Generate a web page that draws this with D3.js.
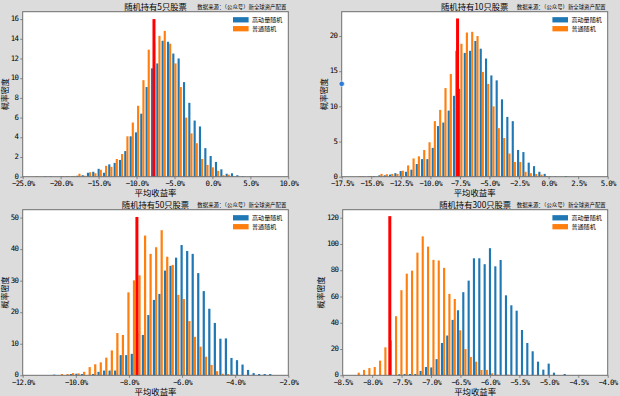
<!DOCTYPE html>
<html lang="zh-CN"><head><meta charset="utf-8">
<script src="https://cdn.jsdelivr.net/npm/d3@7"></script>
<style>html,body{margin:0;padding:0;background:#dcdcdc;}svg{display:block;}</style>
</head><body>
<svg id="chart" width="620" height="396"></svg>
<script>
// ---------- data ----------
const titles = ["随机持有5只股票", "随机持有10只股票", "随机持有50只股票", "随机持有300只股票"];
const sourceNote = "数据来源：（公众号）新全球资产配置";
const seriesNames = ["高动量随机", "普通随机"];
const xLabelText = "平均收益率";
const yLabelText = "概率密度";

// bin centres (% return) and densities, one set per panel
const bins5 = [-23.29,-22.59,-21.88,-21.18,-20.48,-19.77,-19.07,-18.37,-17.66,-16.96,-16.26,-15.56,-14.85,-14.15,-13.45,-12.74,-12.04,-11.34,-10.63,-9.93,-9.23,-8.53,-7.82,-7.12,-6.42,-5.71,-5.01,-4.31,-3.60,-2.90,-2.20,-1.50,-0.79,-0.09,0.61,1.32,2.02,2.72,3.43,4.13];
const blue5 = [0,0,0.05,0.05,0,0.03,0.05,0.05,0.1,0.15,0.4,0.5,0.8,0.4,1.25,1.4,1.7,2.6,4.1,4.5,6.4,9.1,11.0,11.5,13.8,13.7,12.5,12.0,9.6,7.5,5.7,5.1,2.9,2.1,1.5,0.75,0.3,0.35,0.15,0.05];
const orange5 = [0.05,0,0,0,0,0.05,0.05,0.08,0.3,0.1,0.45,0.35,0.7,1.1,1.0,1.8,2.3,4.1,5.5,7.2,9.8,12.9,13.6,14.3,14.8,13.5,11.5,9.1,6.0,4.4,3.4,1.8,1.2,0.95,0.6,0.15,0.2,0.05,0,0];

const bins10 = [-16.02,-15.57,-15.12,-14.67,-14.22,-13.77,-13.32,-12.87,-12.42,-11.97,-11.51,-11.06,-10.61,-10.16,-9.71,-9.26,-8.81,-8.36,-7.91,-7.46,-7.00,-6.55,-6.10,-5.65,-5.20,-4.75,-4.30,-3.85,-3.40,-2.94,-2.49,-2.04,-1.59,-1.14,-0.69,-0.24,0.21,0.66,1.11,1.56];
const blue10 = [0,0.05,0.05,0.1,0.2,0.2,0.3,0.5,0.8,0.7,1.0,1.8,2.5,2.5,4.1,7.2,7.7,9.4,11.5,12.5,17.6,17.9,19.3,18.2,16.8,14.4,13.7,11.0,8.5,7.9,3.8,3.5,2.0,1.5,0.7,0.4,0.05,0.05,0,0.1];
const orange10 = [0.1,0,0.1,0.05,0.4,0.35,0.4,0.4,0.85,1.6,2.6,2.9,3.8,4.9,7.9,9.5,12.6,14.6,17.9,18.9,20.5,20.6,20.0,14.9,13.2,10.0,6.9,5.5,3.3,2.1,2.1,0.7,0.5,0.4,0.3,0.1,0,0,0,0];

const bins50 = [-10.770,-10.562,-10.353,-10.145,-9.936,-9.728,-9.519,-9.311,-9.102,-8.894,-8.685,-8.477,-8.268,-8.060,-7.851,-7.643,-7.434,-7.226,-7.017,-6.809,-6.600,-6.392,-6.183,-5.975,-5.766,-5.558,-5.349,-5.141,-4.932,-4.724,-4.515,-4.307,-4.098,-3.890,-3.681,-3.473,-3.264,-3.056,-2.847,-2.639];
const blue50 = [0.2,0,0,0.4,0.5,0.4,0,0.4,1.1,1.5,1.5,1.5,6.4,6.4,6.8,13.4,12.8,19.1,23.9,25.8,33.2,34.7,37.3,41.3,39.4,38.5,32.4,26.7,21.1,16.6,11.6,11.7,5.5,4.8,3.4,1.7,0.7,0.4,0.4,0.4];
const orange50 = [0,0.4,0.4,0.7,0.6,1.1,2.6,3.5,4.1,5.6,7.9,13.4,12.8,26.3,30.1,31.7,44.3,38.5,40.6,46.0,37.6,35.0,25.5,24.2,17.2,12.2,9.1,5.9,3.3,1.3,0.5,0.4,0.2,0,0,0,0,0,0,0];

const bins300 = [-8.246,-8.155,-8.065,-7.974,-7.883,-7.793,-7.702,-7.612,-7.521,-7.430,-7.340,-7.249,-7.159,-7.068,-6.977,-6.887,-6.796,-6.706,-6.615,-6.524,-6.434,-6.343,-6.253,-6.162,-6.071,-5.981,-5.890,-5.800,-5.709,-5.618,-5.528,-5.437,-5.347,-5.256,-5.165,-5.075,-4.984,-4.894,-4.803,-4.712];
const blue300 = [0,0,0,0,0,0,0,0,0.8,1.0,1.0,1.0,3.3,6.3,6.0,12.3,24.6,30.3,42.2,49.5,63.3,72.1,89.1,89.1,84.6,96.8,83.0,87.8,60.9,53.3,49.2,34.5,24.6,18.3,10.4,4.3,8.9,2.0,0,1.0];
const orange300 = [2.0,4.1,5.5,6.3,11.2,21.3,26.6,45.0,64.8,77.4,79.7,93.4,105.8,98.0,87.9,87.4,81.8,62.0,58.1,34.3,20.0,14.0,10.4,4.1,4.1,1.5,0.5,0,0.5,0,0,0,0,0,0,0,0,0,0,0];

// red reference line: index return and its drawn height per panel
const indexReturn = -7.7;
const indexPeak = [16.0, 22.5, 50.2, 121.2];

// axis ticks
const xTicks5 = [-25,-20,-15,-10,-5,0,5,10];
const xTicks10 = [-17.5,-15,-12.5,-10,-7.5,-5,-2.5,0,2.5,5];
const xTicks50 = [-12,-10,-8,-6,-4,-2];
const xTicks300 = [-8.5,-8,-7.5,-7,-6.5,-6,-5.5,-5,-4.5,-4];
const yTicks5 = [0,2,4,6,8,10,12,14,16];
const yTicks10 = [0,5,10,15,20];
const yTicks50 = [0,10,20,30,40,50];
const yTicks300 = [0,20,40,60,80,100,120];
const yMax = [16.75, 23.46, 52.5, 126.1];

// stray marker seen on the 10-stock panel's left spine (x = axis min, y value)
const strayMarker = [-17.5, 13.2];

// ---------- drawing ----------
const COLORS = {blue: "#1f77b4", orange: "#ff7f0e", red: "#ff0000", spine: "#6e6e6e"};
const CJK = "'Noto Sans CJK SC','Noto Sans CJK JP',sans-serif";
const CJK_TIGHT = "'Liberation Sans','Noto Sans CJK SC',sans-serif";
const MONO = "'DejaVu Sans Mono','Liberation Mono',monospace";

const panels = [
  {title: titles[0], bins: bins5, blue: blue5, orange: orange5, xt: xTicks5, yt: yTicks5, ymax: yMax[0], peak: indexPeak[0], box: {l: 22.7, r: 288.3, t: 11.7, b: 176.7}},
  {title: titles[1], bins: bins10, blue: blue10, orange: orange10, xt: xTicks10, yt: yTicks10, ymax: yMax[1], peak: indexPeak[1], box: {l: 341.7, r: 607.7, t: 11.7, b: 176.7}, marker: strayMarker},
  {title: titles[2], bins: bins50, blue: blue50, orange: orange50, xt: xTicks50, yt: yTicks50, ymax: yMax[2], peak: indexPeak[2], box: {l: 22.7, r: 288.3, t: 209.7, b: 375.3}},
  {title: titles[3], bins: bins300, blue: blue300, orange: orange300, xt: xTicks300, yt: yTicks300, ymax: yMax[3], peak: indexPeak[3], box: {l: 342.7, r: 607.7, t: 209.7, b: 375.3}}
];

const svg = d3.select("#chart");
svg.append("rect").attr("width", 620).attr("height", 396).attr("fill", "#dcdcdc");

const fmtPct = d => (d < 0 ? "\u2212" : "") + Math.abs(d).toFixed(1) + "%";

panels.forEach(p => {
  const B = p.box;
  const x = d3.scaleLinear().domain([p.xt[0], p.xt[p.xt.length - 1]]).range([B.l, B.r]);
  const y = d3.scaleLinear().domain([0, p.ymax]).range([B.b, B.t]);
  const g = svg.append("g");

  g.append("rect").attr("x", B.l).attr("y", B.t).attr("width", B.r - B.l).attr("height", B.b - B.t).attr("fill", "#ffffff");

  const bw = (p.bins[p.bins.length - 1] - p.bins[0]) / (p.bins.length - 1);
  const bluePts = p.bins.map((c, i) => ({c, h: p.blue[i]})).filter(d => d.h > 0);
  const orangePts = p.bins.map((c, i) => ({c, h: p.orange[i]})).filter(d => d.h > 0);

  g.append("g").selectAll("rect").data(bluePts).join("rect")
    .attr("x", d => x(d.c - 0.4 * bw))
    .attr("width", d => x(d.c) - x(d.c - 0.4 * bw))
    .attr("y", d => y(d.h))
    .attr("height", d => y(0) - y(d.h))
    .attr("fill", COLORS.blue);

  g.append("g").selectAll("rect").data(orangePts).join("rect")
    .attr("x", d => x(d.c))
    .attr("width", d => x(d.c + 0.4 * bw) - x(d.c))
    .attr("y", d => y(d.h))
    .attr("height", d => y(0) - y(d.h))
    .attr("fill", COLORS.orange);

  // red index line
  g.append("line")
    .attr("x1", x(indexReturn)).attr("x2", x(indexReturn))
    .attr("y1", y(0)).attr("y2", y(p.peak))
    .attr("stroke", COLORS.red).attr("stroke-width", 3);

  // axes
  const xa = g.append("g").attr("transform", `translate(0,${B.b})`)
    .call(d3.axisBottom(x).tickValues(p.xt).tickFormat(fmtPct).tickSize(2.5).tickPadding(2).tickSizeOuter(0));
  const ya = g.append("g").attr("transform", `translate(${B.l},0)`)
    .call(d3.axisLeft(y).tickValues(p.yt).tickFormat(d3.format("d")).tickSize(2.5).tickPadding(2).tickSizeOuter(0));
  [xa, ya].forEach(a => {
    a.select(".domain").remove();
    a.selectAll(".tick line").attr("stroke", COLORS.spine).attr("stroke-width", 0.8);
    a.selectAll(".tick text").attr("fill", "#000").style("font-family", MONO)
      .style("font-size", "7.4px").style("letter-spacing", "-0.7px");
  });
  ya.selectAll(".tick text").attr("dy", "0.22em");

  // spines
  g.append("rect").attr("x", B.l).attr("y", B.t).attr("width", B.r - B.l).attr("height", B.b - B.t)
    .attr("fill", "none").attr("stroke", COLORS.spine).attr("stroke-width", 1);

  // title + source note
  const cx = (B.l + B.r) / 2;
  g.append("text").attr("x", cx).attr("y", B.t - 5.4).attr("text-anchor", "middle")
    .attr("dominant-baseline", "central").style("font-family", CJK).style("font-size", "8.3px")
    .attr("fill", "#000").text(p.title);
  g.append("text").attr("x", B.r - 2).attr("y", B.t - 4.7).attr("text-anchor", "end")
    .attr("dominant-baseline", "central").style("font-family", CJK).style("font-size", "5.4px")
    .attr("fill", "#000").text(sourceNote);

  // axis labels
  g.append("text").attr("x", cx).attr("y", B.b + 19.4).attr("text-anchor", "middle")
    .style("font-family", CJK_TIGHT).style("font-size", "8.4px")
    .attr("fill", "#000").text(xLabelText);
  const digits = d3.max(p.yt, d => String(d).length);
  const ylx = B.l - 2.5 - 2 - digits * 3.75 - 2.6 - 4;
  const cy = (B.t + B.b) / 2;
  g.append("text").attr("transform", `translate(${ylx},${cy}) rotate(-90)`).attr("text-anchor", "middle")
    .attr("dominant-baseline", "central").style("font-family", CJK).style("font-size", "8px")
    .attr("fill", "#000").text(yLabelText);

  // legend
  const lx = B.r - 55.3;
  [COLORS.blue, COLORS.orange].forEach((col, i) => {
    const ry = B.t + 8.1 + i * 8.9;
    g.append("rect").attr("x", lx).attr("y", ry - 2.65).attr("width", 15.6).attr("height", 5.3).attr("fill", col);
    g.append("text").attr("x", lx + 19).attr("y", ry).attr("dominant-baseline", "central")
      .style("font-family", CJK).style("font-size", "6.1px").attr("fill", "#000").text(seriesNames[i]);
  });

  if (p.marker) {
    g.append("circle").attr("cx", x(p.marker[0])).attr("cy", y(p.marker[1])).attr("r", 2.7)
      .attr("fill", "#2a7ad6").attr("stroke", "#ffffff").attr("stroke-width", 0.6);
  }
});
</script>
</body></html>
